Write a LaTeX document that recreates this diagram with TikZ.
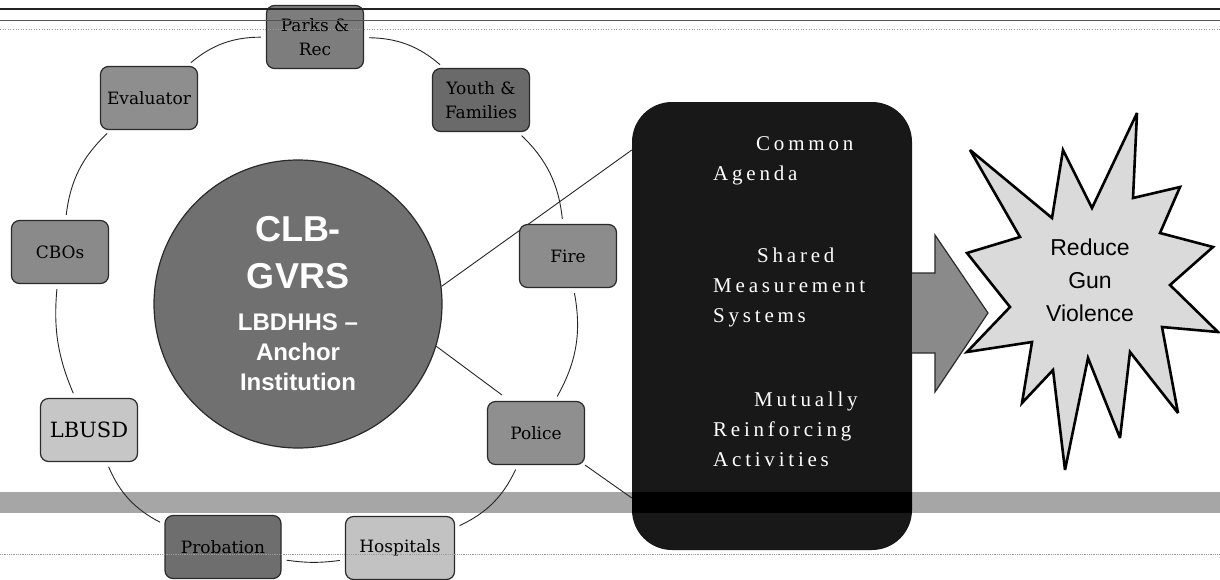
\documentclass[tikz,border=0pt]{standalone}
\usepackage{fontspec}
\setmainfont{DejaVu Serif}
\newfontfamily\pillarfont[LetterSpace=18]{Liberation Serif}
\newfontfamily\hubfont{Liberation Sans}
\newfontfamily\goalfont{Liberation Sans}
\usetikzlibrary{backgrounds}

\definecolor{bandgray}{HTML}{A6A6A6}
\definecolor{ringline}{HTML}{262626}
\definecolor{partline}{HTML}{2A2A2A}
\definecolor{parkfill}{HTML}{7D7D7D}
\definecolor{youthfill}{HTML}{6A6A6A}
\definecolor{firefill}{HTML}{8C8C8C}
\definecolor{policefill}{HTML}{8F8F8F}
\definecolor{hospfill}{HTML}{C2C2C2}
\definecolor{probfill}{HTML}{6E6E6E}
\definecolor{lbusdfill}{HTML}{C6C6C6}
\definecolor{cbofill}{HTML}{8A8A8A}
\definecolor{evalfill}{HTML}{8E8E8E}
\definecolor{hubfill}{HTML}{707070}
\definecolor{hubline}{HTML}{2A2A2A}
\definecolor{pillarfill}{HTML}{181818}
\definecolor{arrowfill}{HTML}{8A8A8A}
\definecolor{starfill}{HTML}{DADADA}
\definecolor{topline}{HTML}{222222}
\definecolor{midline}{HTML}{555555}
\definecolor{faintline}{HTML}{9A9A9A}

\pgfdeclarelayer{bottom}
\pgfdeclarelayer{top}
\pgfsetlayers{bottom,background,main,top}

\begin{document}
\begin{tikzpicture}[x=1pt,y=1pt,
  partner/.style={draw=partline, line width=1.2pt, rounded corners=8pt,
    minimum width=97pt, minimum height=63pt, inner sep=2pt, align=center,
    font=\fontsize{17}{24}\selectfont, text=black},
  ring/.style={draw=ringline, line width=0.9pt, shorten >=5pt, shorten <=5pt},
  link/.style={draw=ringline, line width=0.9pt},
  hub/.style={circle, fill=hubfill, draw=hubline, line width=1.2pt,
    minimum size=288pt, inner sep=0pt, text=white, align=center,
    font=\hubfont\bfseries\fontsize{24}{30}\selectfont},
  pillar/.style={rectangle, rounded corners=40pt, fill=pillarfill,
    minimum width=280pt, minimum height=448pt, inner sep=0pt},
  pillartext/.style={anchor=base west, inner sep=0pt, text=white,
    font=\pillarfont\fontsize{21}{30}\selectfont},
  goal/.style={align=center, inner sep=0pt, text=black,
    font=\goalfont\fontsize{23}{33}\selectfont}
]
\useasboundingbox (0,0) rectangle (1220,-579);

% page and grey band across it
\begin{pgfonlayer}{bottom}
  \fill[white] (0,0) rectangle (1220,-579);
  \fill[bandgray] (0,-492) rectangle (1220,-513);
\end{pgfonlayer}

% anchor institution
\node[hub] (hub) at (298,-304)
  {{\fontsize{36}{30}\selectfont CLB-}\\[17pt]{\fontsize{36}{30}\selectfont GVRS}\\[12pt]LBDHHS –\\Anchor\\Institution};

% partners on the ring
\node[partner, fill=parkfill] (parks) at (315,-37) {Parks \&\\Rec};
\node[partner, fill=youthfill] (youth) at (481,-100) {Youth \&\\Families};
\node[partner, fill=firefill] (fire) at (568,-256) {Fire};
\node[partner, fill=policefill] (police) at (536,-433) {Police};
\node[partner, fill=hospfill, minimum width=109pt] (hosp) at (400,-548) {Hospitals};
\node[partner, fill=probfill, minimum width=116pt] (prob) at (223,-547) {Probation};
\node[partner, fill=lbusdfill, font=\fontsize{21}{24}\selectfont] (lbusd) at (89,-430) {LBUSD};
\node[partner, fill=cbofill] (cbos) at (60,-252) {CBOs};
\node[partner, fill=evalfill] (eval) at (149,-98) {Evaluator};

% collective impact conditions
\node[pillar] (box) at (772,-326) {};
\begin{scope}
  \clip[rounded corners=40pt] (box.south west) rectangle (box.north east);
  \fill[black] (632,-492) rectangle (912,-513);
\end{scope}
\node[pillartext] (c1a) at (756,-150) {Common};
\node[pillartext] (c1b) at (713,-180) {Agenda};
\node[pillartext] (c2a) at (757,-262) {Shared};
\node[pillartext] (c2b) at (713,-292) {Measurement};
\node[pillartext] (c2c) at (713,-322) {Systems};
\node[pillartext] (c3a) at (754,-406) {Mutually};
\node[pillartext] (c3b) at (713,-436) {Reinforcing};
\node[pillartext] (c3c) at (713,-466) {Activities};

\coordinate (bA) at (box.west |- 0,-150);
\coordinate (bB) at (box.west |- 0,-498);
\coordinate (pA) at (502,-395);

\begin{pgfonlayer}{background}
  % ring segments between neighbouring partners
  \draw[ring] (parks) to[bend left=20] (youth);
  \draw[ring] (youth) to[bend left=20] (fire);
  \draw[ring] (fire) to[bend left=20] (police);
  \draw[ring] (police) to[bend left=20] (hosp);
  \draw[ring] (hosp.192) to[bend left=8] (prob.-12);
  \draw[ring] (prob) to[bend left=20] (lbusd);
  \draw[ring] (lbusd) to[bend left=14] (cbos);
  \draw[ring] (cbos) to[bend left=20] (eval);
  \draw[ring] (eval) to[bend left=20] (parks);
  % links to the conditions box
  \draw[link] (hub.7) -- (bA);
  \draw[link] (hub.-17) -- (pA);
  \draw[link] (police.south east) -- (bB);
\end{pgfonlayer}

% block arrow towards the goal
\fill[arrowfill] (912,-273) -- (935,-273) -- (935,-235) -- (988,-313)
  -- (935,-392) -- (935,-353) -- (912,-353) -- cycle;
\draw[partline, line width=1.2pt, line join=miter] (912,-273) -- (935,-273) -- (935,-235)
  -- (988,-313) -- (935,-392) -- (935,-353) -- (912,-353);

% goal burst
\filldraw[fill=starfill, draw=black, line width=2.6pt, line join=miter, miter limit=4]
  (970,-150) -- (1052,-218) -- (1063,-150) -- (1092,-208) -- (1137,-113)
  -- (1133,-198) -- (1180,-187) -- (1160,-233) -- (1213,-247) -- (1170,-285)
  -- (1218,-332) -- (1162,-327) -- (1178,-413) -- (1130,-352) -- (1120,-438)
  -- (1088,-358) -- (1065,-470) -- (1053,-370) -- (1022,-403) -- (1032,-342)
  -- (967,-352) -- (1010,-307) -- (967,-253) -- (1020,-237) -- cycle;
\node[goal] (goaltext) at (1090,-280) {Reduce\\Gun\\Violence};

% rules across the page
\begin{pgfonlayer}{top}
  \draw[topline, line width=1.6pt] (0,-9) -- (1220,-9);
  \draw[midline, line width=0.9pt] (0,-20) -- (1220,-20);
  \draw[faintline, line width=0.6pt, dotted] (0,-29) -- (1220,-29);
  \draw[faintline, line width=0.8pt, densely dotted] (0,-554) -- (1220,-554);
\end{pgfonlayer}
\end{tikzpicture}
\end{document}
